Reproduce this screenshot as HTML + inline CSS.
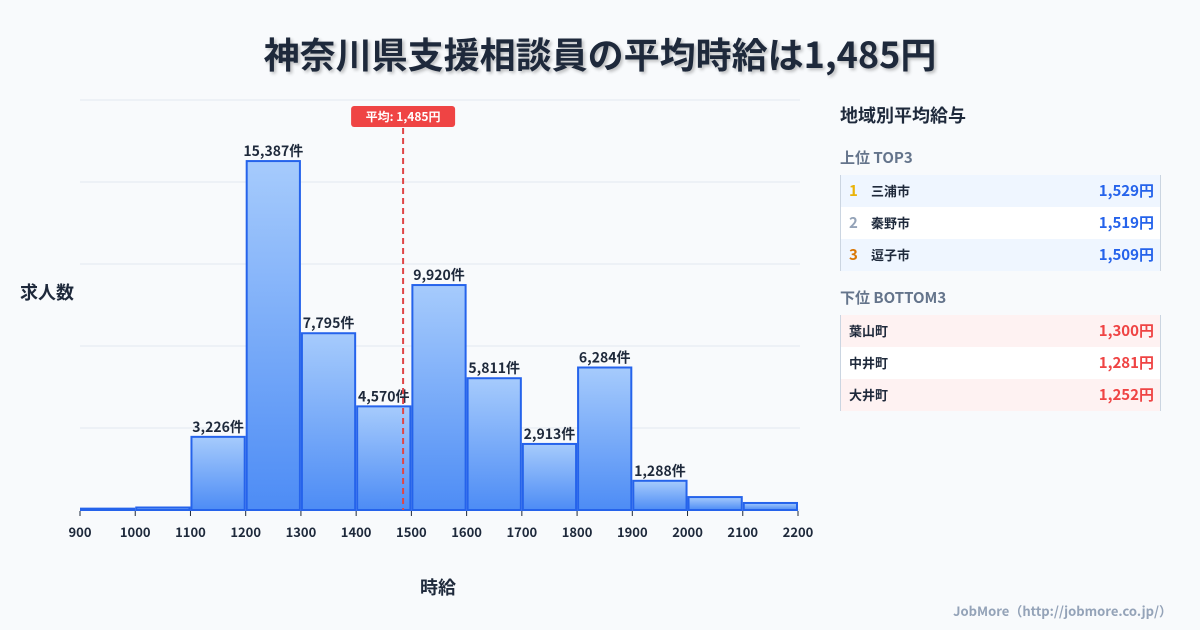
<!DOCTYPE html>
<html><head><meta charset="utf-8">
<style>
body{margin:0;width:1200px;height:630px;background:#f8fafc;font-family:"Noto Sans CJK JP","Liberation Sans",sans-serif;position:relative;overflow:hidden;color:#1e293b}
.title{position:absolute;left:0;width:1200px;top:28px;text-align:center;font-size:36px;line-height:50px;font-weight:bold;color:#1e293b;text-shadow:2px 2px 3px rgba(0,0,0,0.25)}
.panel{position:absolute;left:840px;top:100px;width:321px}
.ph{font-size:18px;font-weight:bold;margin:0;line-height:30px}
.sub{font-size:15px;font-weight:bold;color:#64748b;margin-top:17px;line-height:22px;height:22px}
table{border-collapse:collapse;width:321px;margin-top:6px;border-left:1px solid #cbd5e1;border-right:1px solid #cbd5e1}
td{height:32px;padding:0;font-size:13px;font-weight:bold;line-height:32px}
.rank{width:22px;padding-left:8px;font-size:15px}
.val{text-align:right;padding-right:6px;font-size:15px}
</style></head><body>
<div class="title">神奈川県支援相談員の平均時給は1,485円</div>
<svg id="chart" width="830" height="630" style="position:absolute;left:0;top:0">
<defs><linearGradient id="g" x1="0" y1="0" x2="0" y2="1"><stop offset="0" stop-color="#a6cbfc"/><stop offset="1" stop-color="#4d8cf5"/></linearGradient></defs>
</svg>
<div style="position:absolute;left:20px;top:279px;font-size:18px;line-height:26px;font-weight:bold">求人数</div>
<div style="position:absolute;left:420px;top:574px;font-size:18px;line-height:26px;font-weight:bold">時給</div>
<div style="position:absolute;right:28px;top:601px;font-size:13px;line-height:20px;font-weight:bold;color:#94a3b8">JobMore（http://jobmore.co.jp/）</div>
<div class="panel">
<div class="ph">地域別平均給与</div>
<div class="sub">上位 TOP3</div>
<table>
<tr style="background:#eff6ff"><td class="rank" style="color:#eab308">1</td><td>三浦市</td><td class="val" style="color:#2563eb">1,529円</td></tr>
<tr style="background:#fff"><td class="rank" style="color:#94a3b8">2</td><td>秦野市</td><td class="val" style="color:#2563eb">1,519円</td></tr>
<tr style="background:#eff6ff"><td class="rank" style="color:#d97706">3</td><td>逗子市</td><td class="val" style="color:#2563eb">1,509円</td></tr>
</table>
<div class="sub" style="margin-top:16px">下位 BOTTOM3</div>
<table>
<tr style="background:#fef2f2"><td style="padding-left:8px">葉山町</td><td class="val" style="color:#ef4444">1,300円</td></tr>
<tr style="background:#fff"><td style="padding-left:8px">中井町</td><td class="val" style="color:#ef4444">1,281円</td></tr>
<tr style="background:#fef2f2"><td style="padding-left:8px">大井町</td><td class="val" style="color:#ef4444">1,252円</td></tr>
</table>
</div>
<script>
const binStarts=[900,1000,1100,1200,1300,1400,1500,1600,1700,1800,1900,2000,2100];
const counts=[60,110,3226,15387,7795,4570,9920,5811,2913,6284,1288,570,310];
const labels=["","","3,226件","15,387件","7,795件","4,570件","9,920件","5,811件","2,913件","6,284件","1,288件","",""];
const xTicks=[900,1000,1100,1200,1300,1400,1500,1600,1700,1800,1900,2000,2100,2200];
const meanValue=1485;
const meanLabel="平均: 1,485円";
const NS="http://www.w3.org/2000/svg";
const svg=document.getElementById('chart');
const X0=80,X1=798,XMIN=900,XMAX=2200,Y0=510,YTOP=100,YMAX=18080;
const x=v=>X0+(v-XMIN)/(XMAX-XMIN)*(X1-X0);
const y=v=>Y0-v/YMAX*(Y0-YTOP);
function mk(t,a){const e=document.createElementNS(NS,t);for(const k in a)e.setAttribute(k,a[k]);svg.appendChild(e);return e;}
for(let i=0;i<=5;i++){
 const gl=mk('line',{x1:X0,x2:X1+2,y1:Y0-i*(Y0-YTOP)/5,y2:Y0-i*(Y0-YTOP)/5,stroke:'#e2e8f0','stroke-width':1});
 
 
}
binStarts.forEach((b,i)=>{
 const x1=x(b)+1,x2=x(b+100)-1,yt=y(counts[i]);
 const r=mk('rect',{x:x1,y:yt,width:x2-x1,height:Y0-yt,fill:'url(#g)',stroke:'#2563eb','stroke-width':2});
 
 
 if(labels[i]){
  const t=mk('text',{x:(x1+x2)/2,y:yt-5,'text-anchor':'middle','font-size':14,'font-weight':'bold',fill:'#1e293b'});
  t.textContent=labels[i];
  
  
 }
});
xTicks.forEach(v=>{
 const l=mk('line',{x1:x(v),x2:x(v),y1:Y0+1,y2:Y0+6,stroke:'#1e293b','stroke-width':1});
 
 
 const t=mk('text',{x:x(v),y:Y0+27,'text-anchor':'middle','font-size':13,'font-weight':'bold',fill:'#1e293b'});
 t.textContent=v;
 
 
});
const mx=x(meanValue);
const ml=mk('line',{x1:mx,x2:mx,y1:128,y2:Y0,stroke:'#e04545','stroke-width':2,'stroke-dasharray':'6,4'});


const mb=mk('rect',{x:mx-52,y:106,width:104,height:21,rx:3,fill:'#ef4444'});


const mt=mk('text',{x:mx,y:121,'text-anchor':'middle','font-size':12,'font-weight':'bold',fill:'#fff'});
mt.textContent=meanLabel;


</script>
</body></html>
